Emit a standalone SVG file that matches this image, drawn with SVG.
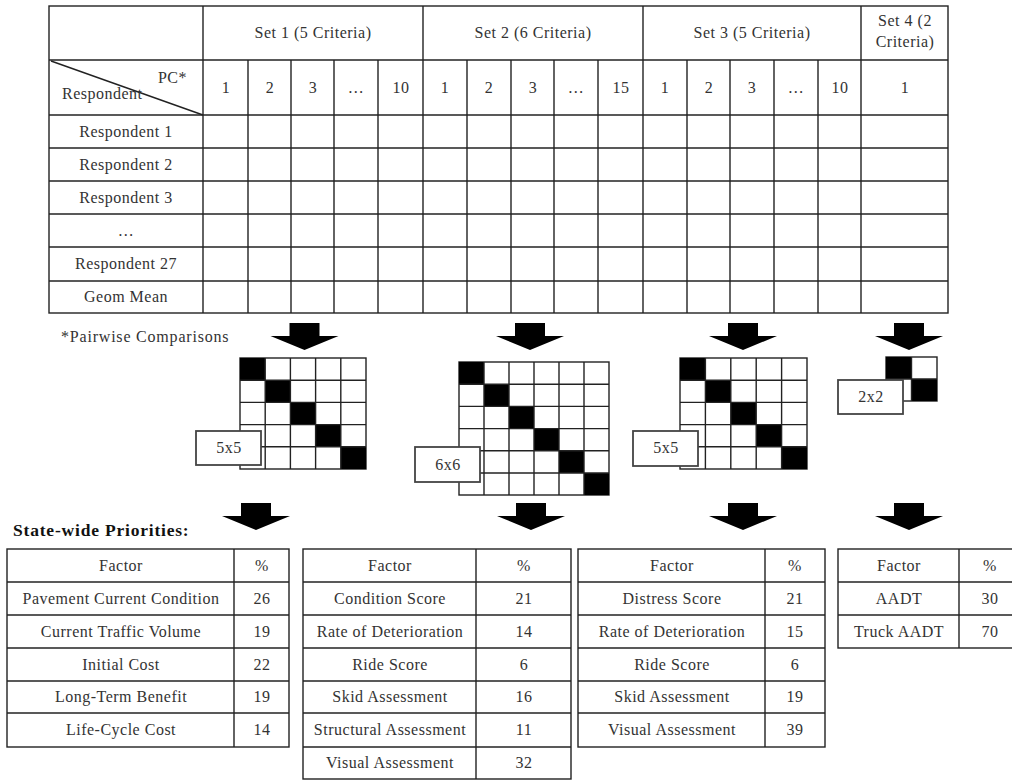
<svg xmlns="http://www.w3.org/2000/svg" xmlns:xlink="http://www.w3.org/1999/xlink" width="1012" height="780" viewBox="0 0 1012 780">
<style>
text{font-family:"Liberation Serif","Times New Roman",serif;font-size:16px;letter-spacing:0.5px;fill:#333;}
.c{text-anchor:middle;}
.b{font-weight:bold;font-size:17.5px;letter-spacing:0.8px;fill:#111;}
.ln{stroke:#222;stroke-width:1.4;fill:none;}
.box{fill:#fff;stroke:#222;stroke-width:1.4;}
.lbl{fill:#fff;stroke:#444;stroke-width:1.8;}
.blk{fill:#000;}
.arr{fill:#000;}
</style>
<defs>
<polygon id="arrowUp" class="arr" points="-15,0 15,0 15,13 34,13 0,27 -34,13 -15,13"/>
</defs>
<rect width="1012" height="780" fill="#fff"/>

<g id="survey-table">
<rect class="box" x="49" y="6" width="899" height="307"/>
<g class="ln">
<line x1="49" y1="60" x2="948" y2="60"/>
<line x1="49" y1="115" x2="948" y2="115"/>
<line x1="49" y1="148" x2="948" y2="148"/>
<line x1="49" y1="181" x2="948" y2="181"/>
<line x1="49" y1="214" x2="948" y2="214"/>
<line x1="49" y1="247" x2="948" y2="247"/>
<line x1="49" y1="281" x2="948" y2="281"/>
<line x1="203" y1="6" x2="203" y2="313"/>
<line x1="423" y1="6" x2="423" y2="313"/>
<line x1="643" y1="6" x2="643" y2="313"/>
<line x1="861" y1="6" x2="861" y2="313"/>
<line x1="248" y1="60" x2="248" y2="313"/>
<line x1="291" y1="60" x2="291" y2="313"/>
<line x1="334" y1="60" x2="334" y2="313"/>
<line x1="378" y1="60" x2="378" y2="313"/>
<line x1="467" y1="60" x2="467" y2="313"/>
<line x1="511" y1="60" x2="511" y2="313"/>
<line x1="554" y1="60" x2="554" y2="313"/>
<line x1="598" y1="60" x2="598" y2="313"/>
<line x1="687" y1="60" x2="687" y2="313"/>
<line x1="730" y1="60" x2="730" y2="313"/>
<line x1="774" y1="60" x2="774" y2="313"/>
<line x1="818" y1="60" x2="818" y2="313"/>
<line x1="51" y1="61" x2="203" y2="115"/>
</g>
<text class="c" x="313" y="38">Set 1 (5 Criteria)</text>
<text class="c" x="533" y="38">Set 2 (6 Criteria)</text>
<text class="c" x="752" y="38">Set 3 (5 Criteria)</text>
<text class="c" x="905" y="26">Set 4 (2</text>
<text class="c" x="905" y="47">Criteria)</text>
<text x="187" y="83" text-anchor="end">PC*</text>
<text x="62" y="99">Respondent</text>
<text class="c" x="226" y="93">1</text>
<text class="c" x="270" y="93">2</text>
<text class="c" x="313" y="93">3</text>
<text class="c" x="356" y="93">…</text>
<text class="c" x="401" y="93">10</text>
<text class="c" x="445" y="93">1</text>
<text class="c" x="489" y="93">2</text>
<text class="c" x="533" y="93">3</text>
<text class="c" x="576" y="93">…</text>
<text class="c" x="621" y="93">15</text>
<text class="c" x="665" y="93">1</text>
<text class="c" x="709" y="93">2</text>
<text class="c" x="752" y="93">3</text>
<text class="c" x="796" y="93">…</text>
<text class="c" x="840" y="93">10</text>
<text class="c" x="905" y="93">1</text>
<text class="c" x="126" y="137">Respondent 1</text>
<text class="c" x="126" y="170">Respondent 2</text>
<text class="c" x="126" y="203">Respondent 3</text>
<text class="c" x="126" y="236">…</text>
<text class="c" x="126" y="269">Respondent 27</text>
<text class="c" x="126" y="302">Geom Mean</text>
</g>

<text id="footnote" x="61" y="342" style="letter-spacing:0.8px">*Pairwise Comparisons</text>

<g id="connectors">
<use xlink:href="#arrowUp" x="304.5" y="323"/>
<use xlink:href="#arrowUp" x="530" y="323"/>
<use xlink:href="#arrowUp" x="743" y="323"/>
<use xlink:href="#arrowUp" x="909" y="323"/>
<use xlink:href="#arrowUp" x="256" y="503"/>
<use xlink:href="#arrowUp" x="531" y="503"/>
<use xlink:href="#arrowUp" x="743" y="503"/>
<use xlink:href="#arrowUp" x="909" y="503"/>
</g>

<g id="matrix-5x5-a">
<rect class="box" x="240" y="358" width="126" height="111"/>
<rect class="blk" x="240" y="358" width="25.2" height="22.2"/>
<rect class="blk" x="265.2" y="380.2" width="25.2" height="22.2"/>
<rect class="blk" x="290.4" y="402.4" width="25.2" height="22.2"/>
<rect class="blk" x="315.6" y="424.6" width="25.2" height="22.2"/>
<rect class="blk" x="340.8" y="446.8" width="25.2" height="22.2"/>
<g class="ln">
<line x1="265.2" y1="358" x2="265.2" y2="469"/><line x1="290.4" y1="358" x2="290.4" y2="469"/><line x1="315.6" y1="358" x2="315.6" y2="469"/><line x1="340.8" y1="358" x2="340.8" y2="469"/>
<line x1="240" y1="380.2" x2="366" y2="380.2"/><line x1="240" y1="402.4" x2="366" y2="402.4"/><line x1="240" y1="424.6" x2="366" y2="424.6"/><line x1="240" y1="446.8" x2="366" y2="446.8"/>
</g>
<rect class="lbl" x="196" y="431" width="65" height="34"/>
<text class="c" x="229" y="453">5x5</text>
</g>

<g id="matrix-6x6">
<rect class="box" x="459" y="362" width="150" height="133"/>
<rect class="blk" x="459" y="362" width="25" height="22.2"/>
<rect class="blk" x="484" y="384.2" width="25" height="22.2"/>
<rect class="blk" x="509" y="406.4" width="25" height="22.2"/>
<rect class="blk" x="534" y="428.6" width="25" height="22.2"/>
<rect class="blk" x="559" y="450.8" width="25" height="22.2"/>
<rect class="blk" x="584" y="473" width="25" height="22"/>
<g class="ln">
<line x1="484" y1="362" x2="484" y2="495"/><line x1="509" y1="362" x2="509" y2="495"/><line x1="534" y1="362" x2="534" y2="495"/><line x1="559" y1="362" x2="559" y2="495"/><line x1="584" y1="362" x2="584" y2="495"/>
<line x1="459" y1="384.2" x2="609" y2="384.2"/><line x1="459" y1="406.4" x2="609" y2="406.4"/><line x1="459" y1="428.6" x2="609" y2="428.6"/><line x1="459" y1="450.8" x2="609" y2="450.8"/><line x1="459" y1="473" x2="609" y2="473"/>
</g>
<rect class="lbl" x="415" y="447" width="65" height="35"/>
<text class="c" x="448" y="470">6x6</text>
</g>

<g id="matrix-5x5-b">
<rect class="box" x="680" y="358" width="127" height="111"/>
<rect class="blk" x="680" y="358" width="25.4" height="22.2"/>
<rect class="blk" x="705.4" y="380.2" width="25.4" height="22.2"/>
<rect class="blk" x="730.8" y="402.4" width="25.4" height="22.2"/>
<rect class="blk" x="756.2" y="424.6" width="25.4" height="22.2"/>
<rect class="blk" x="781.6" y="446.8" width="25.4" height="22.2"/>
<g class="ln">
<line x1="705.4" y1="358" x2="705.4" y2="469"/><line x1="730.8" y1="358" x2="730.8" y2="469"/><line x1="756.2" y1="358" x2="756.2" y2="469"/><line x1="781.6" y1="358" x2="781.6" y2="469"/>
<line x1="680" y1="380.2" x2="807" y2="380.2"/><line x1="680" y1="402.4" x2="807" y2="402.4"/><line x1="680" y1="424.6" x2="807" y2="424.6"/><line x1="680" y1="446.8" x2="807" y2="446.8"/>
</g>
<rect class="lbl" x="633" y="431" width="65" height="35"/>
<text class="c" x="666" y="453">5x5</text>
</g>

<g id="matrix-2x2">
<rect class="box" x="886" y="357" width="51" height="44"/>
<rect class="blk" x="886" y="357" width="25.5" height="22"/>
<rect class="blk" x="911.5" y="379" width="25.5" height="22"/>
<g class="ln">
<line x1="911.5" y1="357" x2="911.5" y2="401"/>
<line x1="886" y1="379" x2="937" y2="379"/>
</g>
<rect class="lbl" x="838" y="380" width="65" height="34"/>
<text class="c" x="871" y="402">2x2</text>
</g>

<text id="title" class="b" x="13" y="536">State-wide Priorities:</text>

<g id="priorities-set1">
<rect class="box" x="7" y="549" width="282" height="198"/>
<g class="ln">
<line x1="234" y1="549" x2="234" y2="747"/>
<line x1="7" y1="582" x2="289" y2="582"/><line x1="7" y1="615" x2="289" y2="615"/><line x1="7" y1="648" x2="289" y2="648"/><line x1="7" y1="681" x2="289" y2="681"/><line x1="7" y1="713" x2="289" y2="713"/>
</g>
<text class="c" x="121" y="571">Factor</text><text class="c" x="262" y="571">%</text>
<text class="c" x="121" y="604">Pavement Current Condition</text><text class="c" x="262" y="604">26</text>
<text class="c" x="121" y="637">Current Traffic Volume</text><text class="c" x="262" y="637">19</text>
<text class="c" x="121" y="670">Initial Cost</text><text class="c" x="262" y="670">22</text>
<text class="c" x="121" y="702">Long-Term Benefit</text><text class="c" x="262" y="702">19</text>
<text class="c" x="121" y="735">Life-Cycle Cost</text><text class="c" x="262" y="735">14</text>
</g>

<g id="priorities-set2">
<rect class="box" x="303" y="549" width="268" height="230"/>
<g class="ln">
<line x1="476" y1="549" x2="476" y2="779"/>
<line x1="303" y1="582" x2="571" y2="582"/><line x1="303" y1="615" x2="571" y2="615"/><line x1="303" y1="648" x2="571" y2="648"/><line x1="303" y1="681" x2="571" y2="681"/><line x1="303" y1="713" x2="571" y2="713"/><line x1="303" y1="747" x2="571" y2="747"/>
</g>
<text class="c" x="390" y="571">Factor</text><text class="c" x="524" y="571">%</text>
<text class="c" x="390" y="604">Condition Score</text><text class="c" x="524" y="604">21</text>
<text class="c" x="390" y="637">Rate of Deterioration</text><text class="c" x="524" y="637">14</text>
<text class="c" x="390" y="670">Ride Score</text><text class="c" x="524" y="670">6</text>
<text class="c" x="390" y="702">Skid Assessment</text><text class="c" x="524" y="702">16</text>
<text class="c" x="390" y="735">Structural Assessment</text><text class="c" x="524" y="735">11</text>
<text class="c" x="390" y="768">Visual Assessment</text><text class="c" x="524" y="768">32</text>
</g>

<g id="priorities-set3">
<rect class="box" x="578" y="549" width="247" height="198"/>
<g class="ln">
<line x1="765" y1="549" x2="765" y2="747"/>
<line x1="578" y1="582" x2="825" y2="582"/><line x1="578" y1="615" x2="825" y2="615"/><line x1="578" y1="648" x2="825" y2="648"/><line x1="578" y1="681" x2="825" y2="681"/><line x1="578" y1="713" x2="825" y2="713"/>
</g>
<text class="c" x="672" y="571">Factor</text><text class="c" x="795" y="571">%</text>
<text class="c" x="672" y="604">Distress Score</text><text class="c" x="795" y="604">21</text>
<text class="c" x="672" y="637">Rate of Deterioration</text><text class="c" x="795" y="637">15</text>
<text class="c" x="672" y="670">Ride Score</text><text class="c" x="795" y="670">6</text>
<text class="c" x="672" y="702">Skid Assessment</text><text class="c" x="795" y="702">19</text>
<text class="c" x="672" y="735">Visual Assessment</text><text class="c" x="795" y="735">39</text>
</g>

<g id="priorities-set4">
<rect class="box" x="838" y="549" width="182" height="99"/>
<g class="ln">
<line x1="959" y1="549" x2="959" y2="648"/>
<line x1="838" y1="582" x2="1020" y2="582"/>
<line x1="838" y1="615" x2="1020" y2="615"/>
</g>
<text class="c" x="899" y="571">Factor</text><text class="c" x="990" y="571">%</text>
<text class="c" x="899" y="604">AADT</text><text class="c" x="990" y="604">30</text>
<text class="c" x="899" y="637">Truck AADT</text><text class="c" x="990" y="637">70</text>
</g>
</svg>
